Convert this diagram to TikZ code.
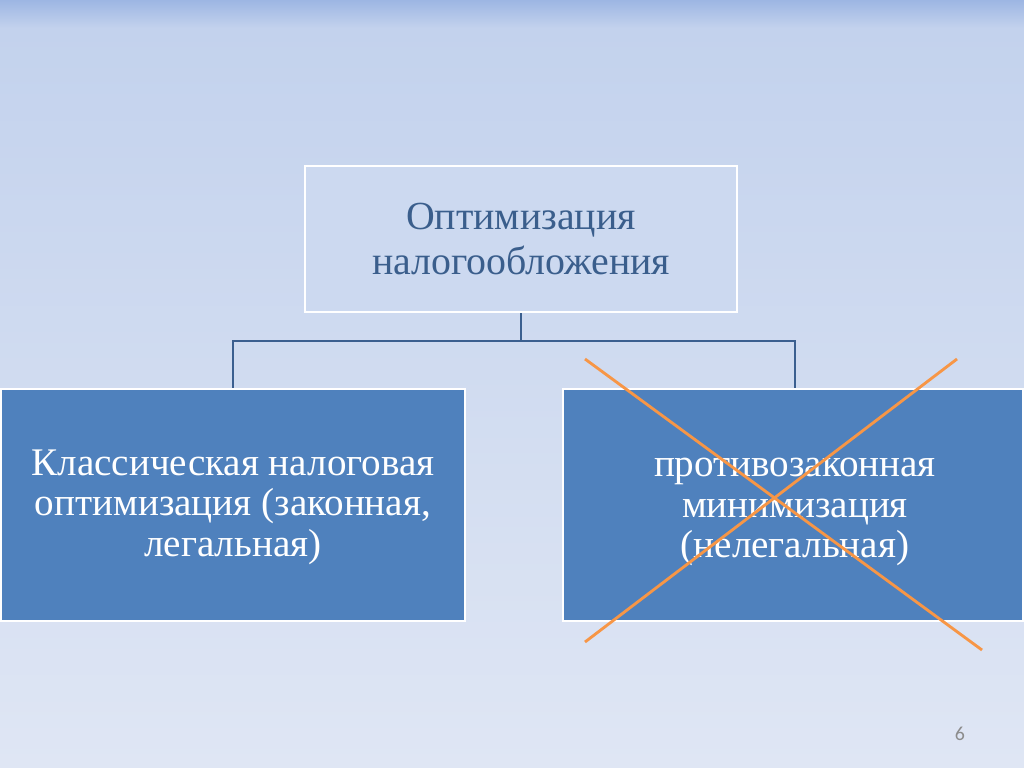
\documentclass[tikz,border=0pt]{standalone}
\usepackage{fontspec}
\setmainfont{Liberation Serif}
\newfontfamily\numfont{Carlito}
\usetikzlibrary{positioning}
\definecolor{bgtop}{HTML}{C3D2ED}
\definecolor{bgband}{HTML}{9DB6E3}
\definecolor{bgbot}{HTML}{DFE6F4}
\definecolor{boxblue}{HTML}{4F81BD}
\definecolor{toptext}{HTML}{3A5E8C}
\definecolor{linkblue}{HTML}{3B5F8F}
\definecolor{crossorange}{HTML}{F79646}
\tikzset{
	headbox/.style={draw=white,line width=2pt,fill=bgtop!85!white,text=toptext,align=center,
		minimum width=432*0.7031pt,minimum height=146*0.7031pt,font=\fontsize{28}{31.5}\selectfont},
	kindbox/.style={draw=white,line width=1.6pt,fill=boxblue,
		minimum height=232*0.7031pt},
	kindtext/.style={text=white,align=center,font=\fontsize{27.5}{28.5}\selectfont},
	link/.style={draw=linkblue,line width=1.6pt},
	cross/.style={draw=crossorange,line width=2pt}
}
\begin{document}
\begin{tikzpicture}[x=0.7031pt,y=-0.7031pt]
		\useasboundingbox (0,0) rectangle (1024,767);
		% background
		\shade[top color=bgtop,bottom color=bgbot] (0,28) rectangle (1024,767);
		\shade[top color=bgband,bottom color=bgtop] (0,0) rectangle (1024,28);
		% boxes
		\node[headbox] (optim) at (521,239) {Оптимизация\\налогообложения};
		\node[kindbox,minimum width=464*0.7031pt] (legal) at (233,505) {};
		\node[kindbox,minimum width=460*0.7031pt] (illegal) at (793,505) {};
		\node[kindtext] (legaltext) at (233,507) {Классическая налоговая\\оптимизация (законная,\\легальная)};
		\node[kindtext] (illegaltext) at (795,512) {противозаконная\\минимизация\\(нелегальная)};
		% connectors
		\coordinate (fork) at (521,341);
		\draw[link] (optim.south) -- (fork);
		\draw[link] (fork) -| (legal.north);
		\draw[link] (fork) -| ([xshift=2*0.7031pt]illegal.north);
		% cross
		\coordinate (c1) at (585,359);
		\coordinate (c2) at (982,650);
		\coordinate (c3) at (957,359);
		\coordinate (c4) at (585,642);
		\draw[cross] (c1) -- (c2);
		\draw[cross] (c3) -- (c4);
		% page number
		\node[text=black!45,font=\numfont\fontsize{14}{16}\selectfont] (pagenum) at (960,734) {6};
	\end{tikzpicture}
\end{document}
